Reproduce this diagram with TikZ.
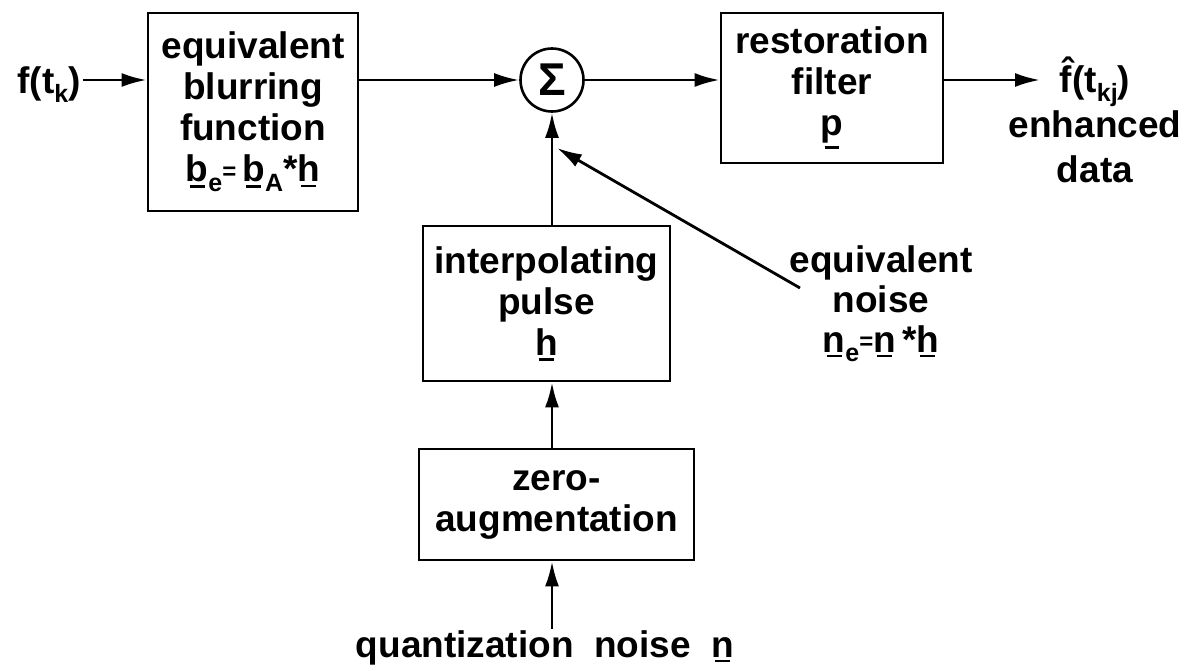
\documentclass[tikz,border=0pt]{standalone}
\usepackage{fontspec}
\setmainfont{Liberation Sans}
\usetikzlibrary{arrows.meta}
\newcommand\ubar[1]{\leavevmode\setbox0\hbox{#1}\rlap{\hbox to\wd0{\hss\lower\dimexpr\dp0+0.14em\relax\hbox{\vrule width 0.4em height 0.07em depth 0pt}\hss}}\box0}
\newcommand\subx[1]{\raisebox{-0.26em}{\fontsize{25}{25}\selectfont #1}}
\newcommand\eqx{{\fontsize{24}{24}\selectfont\raisebox{0.12em}{=}}}
\newcommand\mainfs{\fontsize{37}{41}\selectfont\bfseries}
\tikzset{
  blk/.style={draw, line width=2.8pt, align=center, inner sep=0pt, font=\mainfs},
  lbl/.style={align=center, inner sep=2pt, font=\mainfs},
  arr/.style={line width=2.8pt, -{Latex[length=25pt,width=14pt]}},
}
\begin{document}
\begin{tikzpicture}[x=1pt,y=-1pt]
\useasboundingbox (0,0) rectangle (1189,670);

% blocks
\node[blk, minimum width=210pt, minimum height=198pt] (blur) at (253,112)
  {equivalent\\blurring\\function\\\ubar{b}\subx{e}\eqx\,\ubar{b}\subx{A}*\ubar{h}};
\node[draw, circle, line width=2.6pt, minimum size=63pt, inner sep=0pt,
  font=\fontsize{46}{46}\selectfont\bfseries] (sig) at (552,80) {Σ};
\node[blk, minimum width=222pt, minimum height=150pt] (rest) at (832,88)
  {restoration\\filter\\\ubar{p}};
\node[blk, minimum width=247pt, minimum height=155pt] (interp) at (546.5,303.5)
  {interpolating\\pulse\\\ubar{h}};
\node[blk, minimum width=275pt, minimum height=111pt] (zero) at (556.5,504.5)
  {zero-\\augmentation};

% labels
\node[lbl, anchor=base] (fin) at (49,93) {f(t\subx{k})};
\node[lbl, anchor=base, font=\fontsize{37}{45}\selectfont\bfseries] (out) at (1095,182)
  {\^{f}(t\subx{kj})\\enhanced\\data};
\node[lbl, anchor=base, font=\fontsize{37}{40}\selectfont\bfseries] (neq) at (881,352)
  {equivalent\\noise\\\ubar{n}\subx{e}\eqx\ubar{n}\,*\ubar{h}};
\node[lbl, anchor=base, inner sep=1pt] (qn) at (545,657) {quantization\ \ noise\ \ \ubar{n}};

% coordinates
\coordinate (otip) at (1040,80);
\coordinate (nstart) at (800,288);
\coordinate (ntip) at (557,148);

% connectors
\draw[arr] (fin.east |- sig.center) -- (blur.west |- sig.center);
\draw[arr] (blur.east |- sig.center) -- (sig.west);
\draw[arr] (sig.east) -- (rest.west |- sig.center);
\draw[arr] (rest.east |- sig.center) -- (otip);
\draw[arr] (interp.north -| sig.center) -- (sig.south);
\draw[arr] (zero.north -| sig.center) -- (interp.south -| sig.center);
\draw[arr] (qn.north -| sig.center) -- (zero.south -| sig.center);
\draw[arr] (nstart) -- (ntip);
\end{tikzpicture}
\end{document}
